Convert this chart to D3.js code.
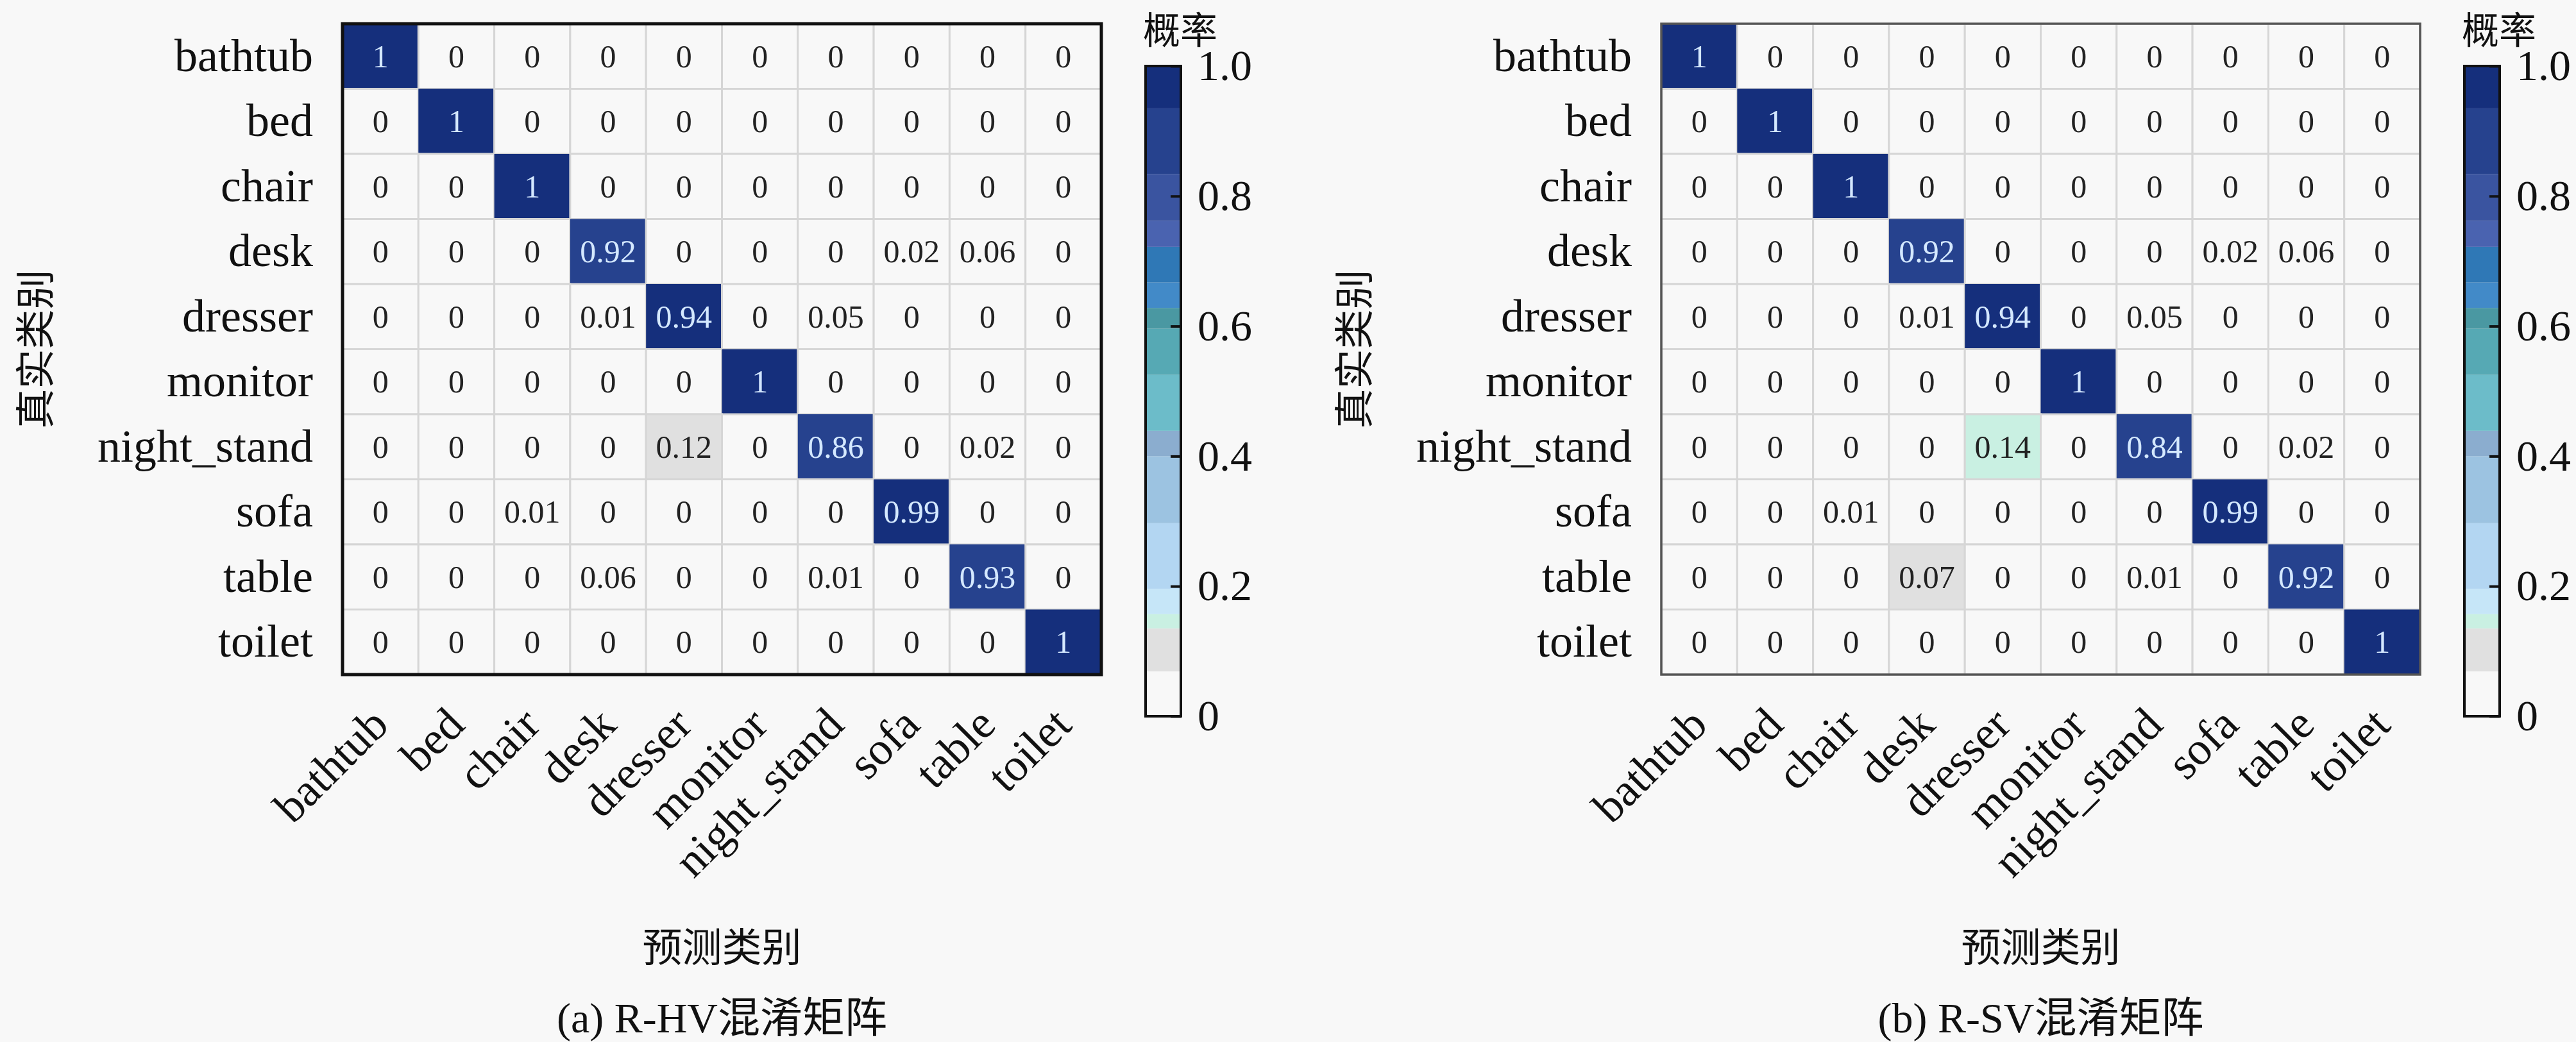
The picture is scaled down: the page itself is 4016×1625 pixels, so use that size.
<html>
<head>
<meta charset="utf-8">
<style>
body { margin: 0; background: #f8f8f8; }
svg text { font-family: "Liberation Serif", "DejaVu Serif", "Noto Sans CJK SC", serif; fill: #111; }
.cjk { font-family: "Noto Sans CJK SC", sans-serif; }
</style>
</head>
<body>
<div id="chart"></div>
<script src="https://cdn.jsdelivr.net/npm/d3@7"></script>
<script>
var categories = ["bathtub", "bed", "chair", "desk", "dresser", "monitor", "night_stand", "sofa", "table", "toilet"];

// rows = true class, columns = predicted class
var matrixHV = [
    [1, 0, 0, 0, 0, 0, 0, 0, 0, 0],
    [0, 1, 0, 0, 0, 0, 0, 0, 0, 0],
    [0, 0, 1, 0, 0, 0, 0, 0, 0, 0],
    [0, 0, 0, 0.92, 0, 0, 0, 0.02, 0.06, 0],
    [0, 0, 0, 0.01, 0.94, 0, 0.05, 0, 0, 0],
    [0, 0, 0, 0, 0, 1, 0, 0, 0, 0],
    [0, 0, 0, 0, 0.12, 0, 0.86, 0, 0.02, 0],
    [0, 0, 0.01, 0, 0, 0, 0, 0.99, 0, 0],
    [0, 0, 0, 0.06, 0, 0, 0.01, 0, 0.93, 0],
    [0, 0, 0, 0, 0, 0, 0, 0, 0, 1]
];

var matrixSV = [
    [1, 0, 0, 0, 0, 0, 0, 0, 0, 0],
    [0, 1, 0, 0, 0, 0, 0, 0, 0, 0],
    [0, 0, 1, 0, 0, 0, 0, 0, 0, 0],
    [0, 0, 0, 0.92, 0, 0, 0, 0.02, 0.06, 0],
    [0, 0, 0, 0.01, 0.94, 0, 0.05, 0, 0, 0],
    [0, 0, 0, 0, 0, 1, 0, 0, 0, 0],
    [0, 0, 0, 0, 0.14, 0, 0.84, 0, 0.02, 0],
    [0, 0, 0.01, 0, 0, 0, 0, 0.99, 0, 0],
    [0, 0, 0, 0.07, 0, 0, 0.01, 0, 0.92, 0],
    [0, 0, 0, 0, 0, 0, 0, 0, 0, 1]
];

var captions = ["(a) R-HV混淆矩阵", "(b) R-SV混淆矩阵"];

// discrete colour map
var colorBreaks = [0.069, 0.135, 0.157, 0.196, 0.297, 0.40, 0.439, 0.525, 0.596, 0.628, 0.667, 0.722, 0.762, 0.834, 0.935];
var colorSteps = ["#f8f8f8", "#e0e0e0", "#c9f0e2", "#c6e6f8", "#b3d6f2", "#9cc3e1", "#8badcf", "#6cbcc9",
                  "#56a9b4", "#4a98a2", "#428ac8", "#2f78b6", "#4a63b0", "#3a54a0", "#26428e", "#152f7c"];

var cbarTicks = [0, 0.2, 0.4, 0.6, 0.8, 1.0];
var cbarTickLabels = ["0", "0.2", "0.4", "0.6", "0.8", "1.0"];

var W = 4016, H = 1625;
var panelOffset = 2056;
var mLeft = 534, mTop = 37, mW = 1183, mH = 1015;
var cbX = 1786, cbW = 55;

var color = d3.scaleThreshold().domain(colorBreaks).range(colorSteps);

var svg = d3.select("#chart").append("svg")
    .attr("width", W)
    .attr("height", H);

svg.append("rect").attr("width", W).attr("height", H).attr("fill", "#f8f8f8");

function drawPanel(idx, matrix, borderColor, borderWidth) {
    var g = svg.append("g").attr("transform", "translate(" + (idx * panelOffset) + ",0)");

    var x = d3.scaleBand().domain(categories).range([0, mW]);
    var y = d3.scaleBand().domain(categories).range([0, mH]);

    var m = g.append("g").attr("transform", "translate(" + mLeft + "," + mTop + ")");

    var cells = [];
    matrix.forEach(function(row, i) {
        row.forEach(function(v, j) {
            cells.push({ t: categories[i], p: categories[j], v: v });
        });
    });

    m.selectAll("rect.cell")
        .data(cells)
        .enter().append("rect")
        .attr("class", "cell")
        .attr("x", function(d) { return x(d.p); })
        .attr("y", function(d) { return y(d.t); })
        .attr("width", x.bandwidth())
        .attr("height", y.bandwidth())
        .attr("fill", function(d) { return color(d.v); })
        .attr("stroke", function(d) { return d.v > 0.5 ? "none" : "#d6d6d6"; })
        .attr("stroke-width", 3);

    m.selectAll("text.val")
        .data(cells)
        .enter().append("text")
        .attr("class", "val")
        .attr("x", function(d) { return x(d.p) + x.bandwidth() / 2; })
        .attr("y", function(d) { return y(d.t) + y.bandwidth() / 2; })
        .attr("dy", "0.34em")
        .attr("text-anchor", "middle")
        .style("font-size", "50px")
        .style("fill", function(d) { return d.v > 0.5 ? "#d4e8ff" : "#222"; })
        .text(function(d) { return String(d.v); });

    m.append("rect")
        .attr("width", mW)
        .attr("height", mH)
        .attr("fill", "none")
        .attr("stroke", borderColor)
        .attr("stroke-width", borderWidth);

    // row labels
    var yAxis = m.append("g").call(d3.axisLeft(y).tickSize(0).tickPadding(46));
    yAxis.attr("font-family", null);
    yAxis.select(".domain").remove();
    yAxis.selectAll("text").style("font-size", "72px").style("fill", "#111");

    // column labels, rotated
    var xAxis = m.append("g")
        .attr("transform", "translate(0," + mH + ")")
        .call(d3.axisBottom(x).tickSize(0));
    xAxis.attr("font-family", null);
    xAxis.select(".domain").remove();
    xAxis.selectAll("text")
        .attr("x", 0).attr("y", 0).attr("dy", 0)
        .attr("text-anchor", "end")
        .attr("transform", "translate(16,82) rotate(-45)")
        .style("font-size", "72px").style("fill", "#111");

    // axis titles
    g.append("text")
        .attr("class", "cjk")
        .attr("transform", "translate(56," + (mTop + mH / 2) + ") rotate(-90)")
        .attr("text-anchor", "middle")
        .attr("dy", "0.35em")
        .style("font-size", "62px")
        .text("真实类别");

    g.append("text")
        .attr("class", "cjk")
        .attr("x", mLeft + mW / 2)
        .attr("y", 1500)
        .attr("text-anchor", "middle")
        .style("font-size", "62px")
        .text("预测类别");

    g.append("text")
        .attr("x", mLeft + mW / 2)
        .attr("y", 1610)
        .attr("text-anchor", "middle")
        .style("font-size", "66px")
        .text(captions[idx]);

    // colour bar
    var cbH = 1014;
    var cy = d3.scaleLinear().domain([0, 1]).range([cbH, 0]);
    var cb = g.append("g").attr("transform", "translate(" + cbX + ",103)");
    var bands = colorSteps.map(function(c, i) {
        return { lo: i === 0 ? 0 : colorBreaks[i - 1], hi: i === colorBreaks.length ? 1 : colorBreaks[i], c: c };
    });
    cb.selectAll("rect.band")
        .data(bands)
        .enter().append("rect")
        .attr("class", "band")
        .attr("x", 0)
        .attr("width", cbW)
        .attr("y", function(d) { return cy(d.hi); })
        .attr("height", function(d) { return cy(d.lo) - cy(d.hi); })
        .attr("fill", function(d) { return d.c; });
    cb.append("rect")
        .attr("width", cbW).attr("height", cbH)
        .attr("fill", "none").attr("stroke", "#111").attr("stroke-width", 4);
    var cAxis = cb.append("g")
        .attr("transform", "translate(" + cbW + ",0)")
        .call(d3.axisRight(cy)
            .tickValues(cbarTicks)
            .tickFormat(function(d, i) { return cbarTickLabels[i]; })
            .tickSizeInner(-16).tickSizeOuter(0).tickPadding(26));
    cAxis.attr("font-family", null);
    cAxis.select(".domain").remove();
    cAxis.selectAll("line").attr("stroke", "#111").attr("stroke-width", 4);
    cAxis.selectAll("text").style("font-size", "68px").style("fill", "#111");

    g.append("text")
        .attr("class", "cjk")
        .attr("x", cbX - 4)
        .attr("y", 68)
        .style("font-size", "58px")
        .text("概率");
}

drawPanel(0, matrixHV, "#111", 5);
drawPanel(1, matrixSV, "#555", 3.5);
</script>
</body>
</html>
